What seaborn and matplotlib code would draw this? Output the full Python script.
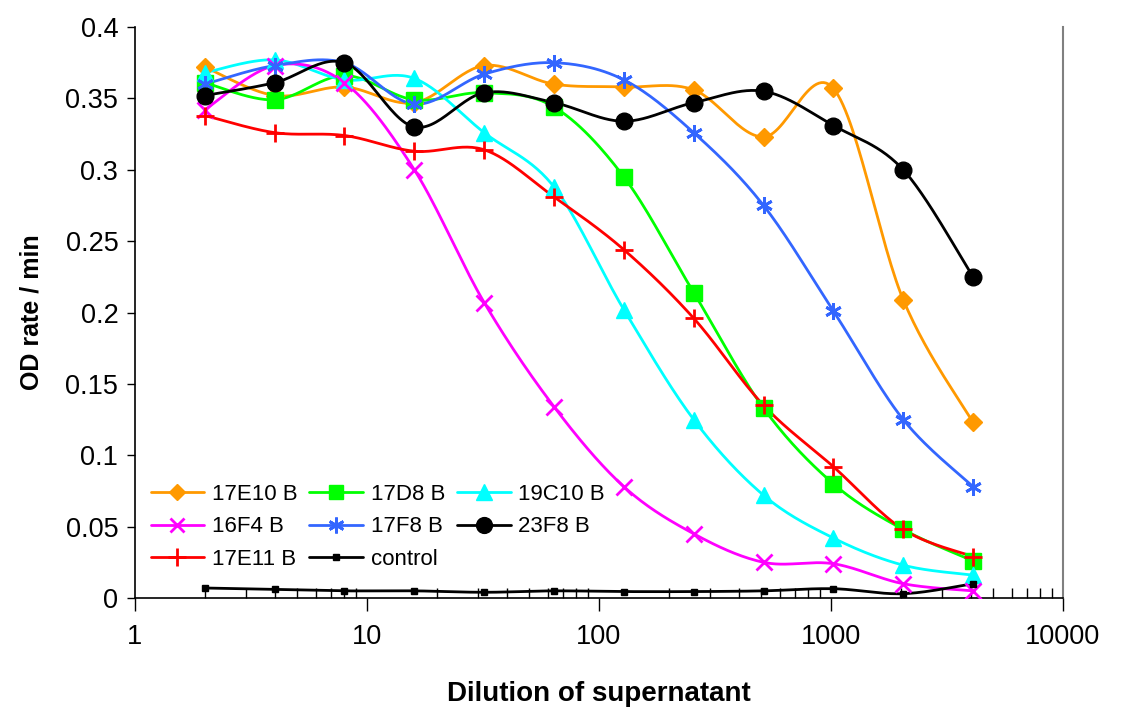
import numpy as np
import matplotlib
matplotlib.use("Agg")
import matplotlib.pyplot as plt
import seaborn as sns
from matplotlib.lines import Line2D
from matplotlib.ticker import LogLocator, NullFormatter

dilution = [2, 4, 8, 16, 32, 64, 128, 256, 512, 1024, 2048, 4096]

s_17E10 = [0.372, 0.352, 0.358, 0.347, 0.373, 0.360, 0.358, 0.356, 0.323, 0.357, 0.209, 0.123]
s_17D8 = [0.361, 0.349, 0.366, 0.349, 0.354, 0.344, 0.295, 0.214, 0.133, 0.080, 0.048, 0.026]
s_19C10 = [0.368, 0.377, 0.363, 0.364, 0.326, 0.288, 0.202, 0.125, 0.072, 0.042, 0.023, 0.016]
s_16F4 = [0.342, 0.373, 0.361, 0.300, 0.207, 0.134, 0.078, 0.045, 0.025, 0.024, 0.010, 0.005]
s_17F8 = [0.360, 0.373, 0.375, 0.346, 0.367, 0.375, 0.363, 0.326, 0.275, 0.201, 0.125, 0.078]
s_23F8 = [0.352, 0.361, 0.375, 0.330, 0.354, 0.347, 0.334, 0.347, 0.355, 0.331, 0.300, 0.225]
s_17E11 = [0.338, 0.326, 0.324, 0.313, 0.314, 0.281, 0.244, 0.196, 0.135, 0.092, 0.048, 0.029]
s_control = [0.007, 0.006, 0.005, 0.005, 0.004, 0.005, 0.0045, 0.0045, 0.005, 0.0065, 0.003, 0.010]

series_names = ["17E10 B", "17D8 B", "19C10 B", "16F4 B", "17F8 B", "23F8 B", "17E11 B", "control"]
series_values = [s_17E10, s_17D8, s_19C10, s_16F4, s_17F8, s_23F8, s_17E11, s_control]

x_tick_labels = ["1", "10", "100", "1000", "10000"]
y_tick_labels = ["0", "0.05", "0.1", "0.15", "0.2", "0.25", "0.3", "0.35", "0.4"]

styles = {
    "17E10 B": dict(color="#FF9900", marker="D", ms=9, mew=1),
    "17D8 B": dict(color="#00FF00", marker="s", ms=11, mew=1),
    "19C10 B": dict(color="#00FFFF", marker="^", ms=12, mew=1),
    "16F4 B": dict(color="#FF00FF", marker="x", ms=11, mew=2),
    "17F8 B": dict(color="#3366FF", marker=(6, 2, 0), ms=12, mew=2),
    "23F8 B": dict(color="#000000", marker="o", ms=12, mew=1),
    "17E11 B": dict(color="#FF0000", marker="+", ms=13, mew=2),
    "control": dict(color="#000000", marker="s", ms=5, mew=1),
}


def smooth(xs, ys, n=30):
    u = np.log10(np.asarray(xs, float))
    y = np.asarray(ys, float)
    P = np.column_stack([u, y])
    P = np.vstack([P[0], P, P[-1]])
    out = []
    t = np.linspace(0, 1, n)[:, None]
    for i in range(1, len(P) - 2):
        p0, p1, p2, p3 = P[i - 1], P[i], P[i + 1], P[i + 2]
        b1 = p1 + (p2 - p0) / 6
        b2 = p2 - (p3 - p1) / 6
        seg = ((1 - t) ** 3) * p1 + 3 * ((1 - t) ** 2) * t * b1 + 3 * (1 - t) * t ** 2 * b2 + t ** 3 * p2
        out.append(seg if i == 1 else seg[1:])
    out = np.vstack(out)
    return 10 ** out[:, 0], out[:, 1]


sns.set_style("white")
plt.rcParams["font.family"] = ["Liberation Sans", "DejaVu Sans"]
plt.rcParams["text.color"] = "black"
plt.rcParams["axes.labelcolor"] = "black"
plt.rcParams["xtick.color"] = "black"
plt.rcParams["ytick.color"] = "black"

fig = plt.figure(figsize=(11.22, 7.13), dpi=100)
ax = fig.add_axes([0.1203, 0.1613, 0.8271, 0.8008])

handles = []
for name, vals in zip(series_names, series_values):
    st = styles[name]
    sx, sy = smooth(dilution, vals)
    sns.lineplot(x=sx, y=sy, ax=ax, color=st["color"], lw=2, sort=False,
                 estimator=None, zorder=2)
    sns.lineplot(x=dilution, y=vals, ax=ax, color=st["color"], linestyle="",
                 marker=st["marker"], markersize=st["ms"], markeredgewidth=st["mew"],
                 markeredgecolor=st["color"], markerfacecolor=st["color"],
                 estimator=None, zorder=3)
    handles.append(Line2D([], [], color=st["color"], lw=2, marker=st["marker"],
                          markersize=st["ms"] * 0.95, markeredgewidth=st["mew"],
                          markeredgecolor=st["color"], markerfacecolor=st["color"]))

ax.set_xscale("log")
ax.set_xlim(1, 10000)
ax.set_ylim(0, 0.4)
ax.set_xticks([1, 10, 100, 1000, 10000])
ax.set_xticklabels(x_tick_labels)
ax.xaxis.set_minor_locator(LogLocator(base=10, subs=np.arange(2, 10)))
ax.xaxis.set_minor_formatter(NullFormatter())
ax.set_yticks([0, 0.05, 0.1, 0.15, 0.2, 0.25, 0.3, 0.35, 0.4])
ax.set_yticklabels(y_tick_labels)

ax.tick_params(axis="x", which="major", direction="out", length=9, width=1, labelsize=19.5, pad=10, bottom=True)
ax.tick_params(axis="x", which="minor", direction="in", length=7, width=1, bottom=True)
ax.tick_params(axis="y", which="major", direction="out", length=6, width=1, labelsize=19.5, pad=6, left=True)

for sp in ["left", "bottom"]:
    ax.spines[sp].set_color("black")
    ax.spines[sp].set_linewidth(1.2)
ax.spines["top"].set_visible(False)
ax.spines["right"].set_color("#808080")
ax.spines["right"].set_linewidth(1.5)

ax.set_xlabel("Dilution of supernatant", fontsize=20, fontweight="bold", labelpad=22)
ax.set_ylabel("OD rate / min", fontsize=18, fontweight="bold", labelpad=16)

order = [0, 3, 6, 1, 4, 7, 2, 5]
ax.legend([handles[i] for i in order], [series_names[i] for i in order],
          ncol=3, frameon=False, loc="lower left", bbox_to_anchor=(0.0, 0.022),
          fontsize=16, handlelength=2.4, handletextpad=0.35, columnspacing=0.55,
          labelspacing=0.52, borderaxespad=0.3)

fig.savefig("out.png", dpi=100)
